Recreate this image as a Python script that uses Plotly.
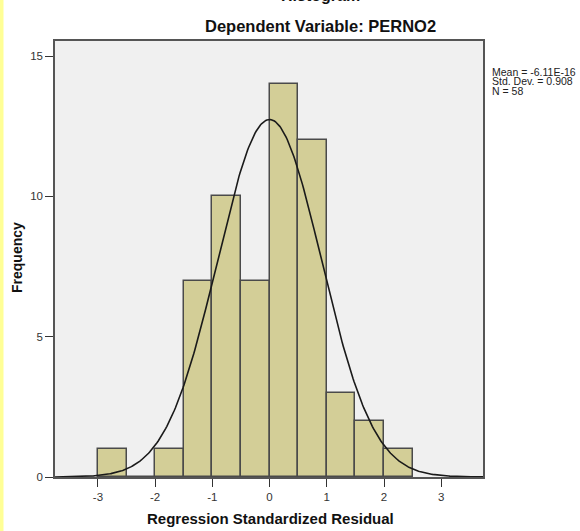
import numpy as np
import plotly.graph_objects as go

# ---- data ----
bin_starts = [-3.0, -2.5, -2.0, -1.5, -1.0, -0.5, 0.0, 0.5, 1.0, 1.5, 2.0]
counts = [1, 0, 1, 7, 10, 7, 14, 12, 3, 2, 1]
bin_width = 0.5
mean_val = -6.11e-16
std_dev = 0.908
n_obs = 58
x_ticks = [-3, -2, -1, 0, 1, 2, 3]
y_ticks = [0, 5, 10, 15]
stats_lines = ["Mean = -6.11E-16", "Std. Dev. = 0.908", "N = 58"]

W, H = 580, 531
L, R, T, B = 55, 97, 41, 54
pw, ph = W - L - R, H - T - B

def px(xp):
    return (xp - L) / pw

def py(yp):
    return (H - B - yp) / ph

FONT = "Liberation Sans, Arial, sans-serif"

centers = [s + bin_width / 2 for s in bin_starts]

xs = np.linspace(-3.75, 3.75, 400)
ys = n_obs * bin_width / (std_dev * np.sqrt(2 * np.pi)) * np.exp(-0.5 * ((xs - mean_val) / std_dev) ** 2)

fig = go.Figure()
fig.add_trace(go.Bar(
    x=centers, y=counts, width=bin_width,
    marker=dict(color="rgb(211,206,151)", line=dict(color="#4a4a4a", width=1.5)),
    showlegend=False, hoverinfo="skip",
))
fig.add_trace(go.Scatter(
    x=xs, y=ys, mode="lines", line=dict(color="#1a1a1a", width=1.6),
    showlegend=False, hoverinfo="skip",
))

ann = []
ann.append(dict(text="<b>Histogram</b>", x=px(320), y=py(-4.5), xref="paper", yref="paper",
                showarrow=False, xanchor="center", yanchor="middle",
                font=dict(family=FONT, size=16, color="#111")))
ann.append(dict(text="<b>Dependent Variable: PERNO2</b>", x=px(320), y=py(26), xref="paper", yref="paper",
                showarrow=False, xanchor="center", yanchor="middle",
                font=dict(family=FONT, size=16.5, color="#111")))
ann.append(dict(text="<b>Regression Standardized Residual</b>", x=px(270), y=py(518), xref="paper", yref="paper",
                showarrow=False, xanchor="center", yanchor="middle",
                font=dict(family=FONT, size=15, color="#111")))
ann.append(dict(text="<b>Frequency</b>", x=px(17), y=py(258), xref="paper", yref="paper",
                showarrow=False, xanchor="center", yanchor="middle", textangle=-90,
                font=dict(family=FONT, size=14, color="#111")))
for i, line in enumerate(stats_lines):
    ann.append(dict(text=line, x=px(490), y=py(71.5 + 9.5 * i), xref="paper", yref="paper",
                    showarrow=False, xanchor="left", yanchor="middle",
                    font=dict(family=FONT, size=10.5, color="#222")))

fig.update_layout(
    width=W, height=H,
    margin=dict(l=L, r=R, t=T, b=B, pad=0),
    paper_bgcolor="white",
    plot_bgcolor="rgb(240,240,240)",
    bargap=0,
    annotations=ann,
    shapes=[dict(type="rect", xref="paper", yref="paper",
                 x0=px(0), x1=px(3.5), y0=py(H), y1=py(0),
                 fillcolor="rgb(255,255,150)", line=dict(width=0))],
)
fig.update_xaxes(
    range=[-3.75, 3.73], tickvals=x_ticks, ticktext=[str(t) for t in x_ticks],
    showgrid=False, zeroline=False, showline=True, linecolor="#555", linewidth=1.5, mirror=True,
    ticks="outside", ticklen=8, tickcolor="#333", tickwidth=1.3,
    tickfont=dict(family=FONT, size=11.5, color="#333"),
)
fig.update_yaxes(
    range=[0, 15.54], tickvals=y_ticks,
    showgrid=False, zeroline=False, showline=True, linecolor="#555", linewidth=1.5, mirror=True,
    ticks="outside", ticklen=8, tickcolor="#333", tickwidth=1.3,
    tickfont=dict(family=FONT, size=11.5, color="#333"),
)

fig.write_html(
    "out.html",
    config={"displayModeBar": False},
    post_script="document.body.style.margin='0';document.body.style.overflow='hidden';",
)
